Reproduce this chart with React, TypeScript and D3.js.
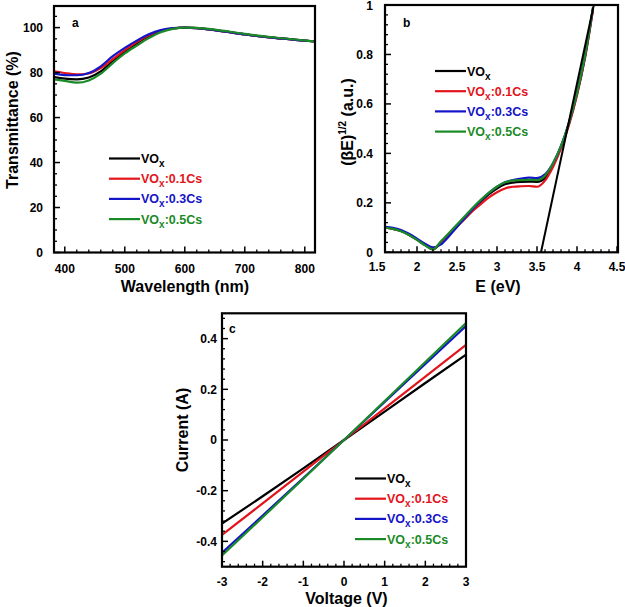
import React from "react";
import * as d3 from "d3";

// ---------------- DATA ----------------
const seriesNames = ["VOx", "VOx:0.1Cs", "VOx:0.3Cs", "VOx:0.5Cs"];
const seriesSuffix = ["", ":0.1Cs", ":0.3Cs", ":0.5Cs"];
const seriesColors = ["#000000", "#e3141b", "#1414c8", "#1a8a26"];

// Panel a: transmittance vs wavelength
const wavelength = [382, 400, 420, 440, 460, 480, 500, 520, 540, 560, 580, 600, 620, 650, 700, 750, 800, 817];
const transBlack = [78, 77.3, 77, 77.8, 80.5, 85, 89.3, 93, 96.2, 98.4, 99.6, 100, 99.8, 98.9, 97, 95.4, 94.2, 93.8];
const transRed = [80.6, 79.8, 79.2, 79.6, 82, 86, 90, 93.6, 96.6, 98.7, 99.7, 100, 99.8, 98.9, 97, 95.4, 94.2, 93.8];
const transBlue = [79.5, 78.9, 78.8, 79.8, 82.8, 87.3, 91, 94.2, 97, 98.9, 99.8, 100, 99.8, 98.9, 97, 95.4, 94.2, 93.8];
const transGreen = [77, 76.3, 75.5, 76.5, 79.5, 84.2, 88.5, 92, 95.3, 97.9, 99.4, 100, 99.9, 99.1, 97.2, 95.6, 94.3, 93.8];

// Panel b: (beta E)^1/2 vs E
const energy = [1.6, 1.7, 1.8, 1.9, 2.0, 2.1, 2.2, 2.3, 2.4, 2.5, 2.6, 2.7, 2.8, 2.9, 3.0, 3.1, 3.2, 3.3, 3.4, 3.5, 3.6, 3.7, 3.8, 3.9, 4.0, 4.1, 4.2];
const tBlack = [0.1, 0.095, 0.086, 0.071, 0.051, 0.03, 0.012, 0.04, 0.074, 0.108, 0.142, 0.176, 0.206, 0.235, 0.258, 0.275, 0.282, 0.285, 0.286, 0.285, 0.3, 0.352, 0.425, 0.52, 0.64, 0.79, 0.985];
const tRed = [0.1, 0.095, 0.086, 0.071, 0.051, 0.03, 0.013, 0.038, 0.07, 0.103, 0.136, 0.168, 0.196, 0.222, 0.243, 0.258, 0.265, 0.267, 0.268, 0.265, 0.29, 0.345, 0.42, 0.515, 0.635, 0.785, 0.98];
const tBlue = [0.103, 0.099, 0.09, 0.075, 0.055, 0.035, 0.02, 0.032, 0.065, 0.102, 0.14, 0.176, 0.21, 0.24, 0.265, 0.283, 0.292, 0.298, 0.302, 0.3, 0.315, 0.36, 0.43, 0.525, 0.645, 0.795, 0.99];
const tGreen = [0.1, 0.095, 0.085, 0.07, 0.05, 0.028, 0.012, 0.045, 0.078, 0.112, 0.147, 0.181, 0.213, 0.241, 0.265, 0.283, 0.29, 0.292, 0.293, 0.292, 0.31, 0.36, 0.43, 0.525, 0.645, 0.795, 0.99];
const tangentE = [3.55, 4.21];
const tangentV = [0, 1];

// Panel c: I-V
const voltage = [-3, -2, -1, 0, 1, 2, 3];
const ivBlack = [-0.33, -0.222, -0.112, 0, 0.112, 0.225, 0.337];
const ivRed = [-0.374, -0.25, -0.125, 0, 0.125, 0.25, 0.375];
const ivBlue = [-0.445, -0.298, -0.15, 0, 0.15, 0.3, 0.45];
const ivGreen = [-0.456, -0.305, -0.153, 0, 0.154, 0.308, 0.462];

// Tick labels
const aXTicks = [400, 500, 600, 700, 800];
const aYTicks = [0, 20, 40, 60, 80, 100];
const bXTicks = [1.5, 2, 2.5, 3, 3.5, 4, 4.5];
const bYTicks = [0, 0.2, 0.4, 0.6, 0.8, 1];
const cXTicks = [-3, -2, -1, 0, 1, 2, 3];
const cYTicks = [-0.4, -0.2, 0, 0.2, 0.4];

const FONT = "'Liberation Sans', Arial, Helvetica, sans-serif";

type PanelProps = {
  left: number; right: number; top: number; bottom: number;
  xDomain: [number, number]; yDomain: [number, number];
  xTicks: number[]; yTicks: number[];
  xMinor: number; yMinor: number;
  xFmt: (v: number) => string; yFmt: (v: number) => string;
  yLabelGap: number; xLabelDy: number;
  xs: number[]; ys: number[][];
  extra?: (x: d3.ScaleLinear<number, number>, y: d3.ScaleLinear<number, number>) => React.ReactNode;
  label: string; labelPos: [number, number];
  legendPos: [number, number];
  xTitle: React.ReactNode; xTitlePos: [number, number];
  yTitle: React.ReactNode; yTitlePos: [number, number];
  curve: d3.CurveFactory;
  id: string;
};

function rangeStep(a: number, b: number, step: number) {
  const out: number[] = [];
  const start = Math.ceil(a / step - 1e-9);
  const end = Math.floor(b / step + 1e-9);
  for (let i = start; i <= end; i++) out.push(+(i * step).toFixed(6));
  return out;
}

function Panel(p: PanelProps) {
  const x = d3.scaleLinear().domain(p.xDomain).range([p.left, p.right]);
  const y = d3.scaleLinear().domain(p.yDomain).range([p.bottom, p.top]);
  const line = d3.line<[number, number]>().x(d => x(d[0])).y(d => y(d[1])).curve(p.curve);
  const inX = (v: number) => v >= p.xDomain[0] - 1e-9 && v <= p.xDomain[1] + 1e-9;
  const inY = (v: number) => v >= p.yDomain[0] - 1e-9 && v <= p.yDomain[1] + 1e-9;
  const xMinor = rangeStep(p.xDomain[0], p.xDomain[1], p.xMinor);
  const yMinor = rangeStep(p.yDomain[0], p.yDomain[1], p.yMinor);
  const isMajor = (v: number, arr: number[]) => arr.some(t => Math.abs(t - v) < 1e-6);
  return (
    <g>
      <defs>
        <clipPath id={"clip" + p.id}>
          <rect x={p.left} y={p.top} width={p.right - p.left} height={p.bottom - p.top} />
        </clipPath>
      </defs>
      <g clipPath={`url(#clip${p.id})`}>
        {p.ys.map((ys, i) => (
          <path key={i} d={line(p.xs.map((xv, j) => [xv, ys[j]] as [number, number])) || ""}
            fill="none" stroke={seriesColors[i]} strokeWidth={2.2} />
        ))}
        {p.extra && p.extra(x, y)}
      </g>
      {xMinor.filter(v => !isMajor(v, p.xTicks)).map(v => (
        <line key={"xm" + v} x1={x(v)} x2={x(v)} y1={p.bottom} y2={p.bottom - 3} stroke="#000" strokeWidth={1.3} />
      ))}
      {yMinor.filter(v => !isMajor(v, p.yTicks)).map(v => (
        <line key={"ym" + v} x1={p.left} x2={p.left + 3} y1={y(v)} y2={y(v)} stroke="#000" strokeWidth={1.3} />
      ))}
      {p.xTicks.filter(inX).map(v => (
        <line key={"xM" + v} x1={x(v)} x2={x(v)} y1={p.bottom} y2={p.bottom - 6} stroke="#000" strokeWidth={1.5} />
      ))}
      {p.yTicks.filter(inY).map(v => (
        <line key={"yM" + v} x1={p.left} x2={p.left + 6} y1={y(v)} y2={y(v)} stroke="#000" strokeWidth={1.5} />
      ))}
      <rect x={p.left} y={p.top} width={p.right - p.left} height={p.bottom - p.top} fill="none" stroke="#000" strokeWidth={2.2} />
      {p.xTicks.map(v => (
        <text key={"xl" + v} x={x(v)} y={p.bottom + p.xLabelDy} textAnchor="middle" fontSize={12} fontWeight="bold" fontFamily={FONT}>{p.xFmt(v)}</text>
      ))}
      {p.yTicks.map(v => (
        <text key={"yl" + v} x={p.left - p.yLabelGap} y={Math.max(y(v) + 4.3, 10)} textAnchor="end" fontSize={12} fontWeight="bold" fontFamily={FONT}>{p.yFmt(v)}</text>
      ))}
      <text x={p.labelPos[0]} y={p.labelPos[1]} fontSize={12} fontWeight="bold" fontFamily={FONT}>{p.label}</text>
      {seriesNames.map((n, i) => {
        const ly = p.legendPos[1] + i * 20.2;
        const lx = p.legendPos[0];
        return (
          <g key={n}>
            <line x1={lx} x2={lx + 31} y1={ly} y2={ly} stroke={seriesColors[i]} strokeWidth={2.2} />
            <text x={lx + 32} y={ly + 4.5} fontSize={12.5} fontWeight="bold" fontFamily={FONT} fill={seriesColors[i]}>
              VO<tspan fontSize={10} dy={4}>x</tspan><tspan dy={-4}>{seriesSuffix[i]}</tspan>
            </text>
          </g>
        );
      })}
      <text x={p.xTitlePos[0]} y={p.xTitlePos[1]} textAnchor="middle" fontSize={16} fontWeight="bold" fontFamily={FONT}>{p.xTitle}</text>
      <text transform={`translate(${p.yTitlePos[0]},${p.yTitlePos[1]}) rotate(-90)`} textAnchor="middle" fontSize={16} fontWeight="bold" fontFamily={FONT}>{p.yTitle}</text>
    </g>
  );
}

export default function App() {
  const fmtPlain = (v: number) => String(v);
  return (
    <svg width={625} height={607} style={{ position: "absolute", left: 0, top: 0, background: "#fff" }}>
      <Panel id="a" left={54} right={315} top={6} bottom={252.5}
        xDomain={[382, 817]} yDomain={[0, 109.6]}
        xTicks={aXTicks} yTicks={aYTicks} xMinor={20} yMinor={5}
        xFmt={fmtPlain} yFmt={fmtPlain} yLabelGap={11} xLabelDy={20}
        xs={wavelength} ys={[transBlack, transRed, transBlue, transGreen]}
        curve={d3.curveMonotoneX}
        label="a" labelPos={[72, 27]} legendPos={[109, 158.5]}
        xTitle="Wavelength (nm)" xTitlePos={[185, 292]}
        yTitle="Transmittance (%)" yTitlePos={[18, 120]} />
      <Panel id="b" left={385} right={618} top={5} bottom={252.3}
        xDomain={[1.6, 4.5125]} yDomain={[0, 1]}
        xTicks={bXTicks} yTicks={bYTicks} xMinor={0.1} yMinor={0.04}
        xFmt={fmtPlain} yFmt={fmtPlain} yLabelGap={12} xLabelDy={19}
        xs={energy} ys={[tBlack, tRed, tBlue, tGreen]}
        curve={d3.curveMonotoneX}
        extra={(x, y) => (
          <path d={d3.line<number>().x(d => x(d)).y((_, i) => y(tangentV[i]))(tangentE) || ""}
            fill="none" stroke="#000" strokeWidth={2} />
        )}
        label="b" labelPos={[403, 27]} legendPos={[435, 71]}
        xTitle="E (eV)" xTitlePos={[498, 292]}
        yTitle={<>(βE)<tspan fontSize={10} dy={-7}>1/2</tspan><tspan dy={7}> (a.u.)</tspan></>} yTitlePos={[353, 122]} />
      <Panel id="c" left={222} right={466} top={313.3} bottom={566.7}
        xDomain={[-3, 3]} yDomain={[-0.5, 0.5]}
        xTicks={cXTicks} yTicks={cYTicks} xMinor={0.2} yMinor={0.04}
        xFmt={fmtPlain} yFmt={fmtPlain} yLabelGap={5} xLabelDy={19}
        xs={voltage} ys={[ivBlack, ivRed, ivBlue, ivGreen]}
        curve={d3.curveLinear}
        label="c" labelPos={[229, 333]} legendPos={[355, 478.5]}
        xTitle="Voltage (V)" xTitlePos={[346.5, 604]}
        yTitle="Current (A)" yTitlePos={[187.5, 430]} />
    </svg>
  );
}
